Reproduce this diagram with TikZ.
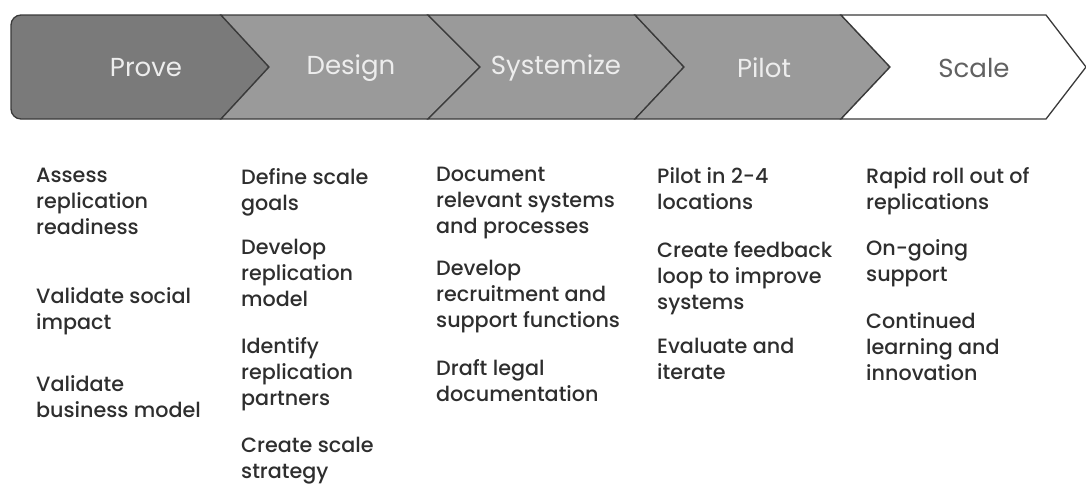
\documentclass[tikz,border=0pt]{standalone}
\usepackage{fontspec}
\setmainfont{Poppins}
\newfontfamily\itemfont{Poppins Medium}

\definecolor{provegray}{HTML}{7A7A7A}
\definecolor{stepgray}{HTML}{9A9A9A}
\definecolor{edgegray}{HTML}{3A3A3A}
\definecolor{inkgray}{HTML}{2E2E2E}

\tikzset{
  phase/.style={draw=edgegray, line width=1.3pt, line join=miter},
  phaselabel/.style={font=\fontsize{26}{30}\selectfont, text=white!93!black},
  item/.style={anchor=north west, inner sep=0pt, align=left, text=inkgray,
    font=\itemfont\fontsize{20.7}{26}\selectfont}
}

\begin{document}
\begin{tikzpicture}[x=1pt,y=-1pt]
  \useasboundingbox (0,0) rectangle (1086,488);

  % Draw the phase arrows
  \draw[phase, fill=provegray] (221,119) [rounded corners=10pt] -- (11,119) -- (11,15)
    [sharp corners] -- (221,15) -- (269,67) -- cycle;
  \draw[phase, fill=stepgray] (221,15) -- (428,15) -- (480,67) -- (428,119) -- (221,119) -- (269,67) -- cycle;
  \draw[phase, fill=stepgray] (428,15) -- (635,15) -- (684,67) -- (635,119) -- (428,119) -- (480,67) -- cycle;
  \draw[phase, fill=stepgray] (635,15) -- (841,15) -- (890,67) -- (841,119) -- (635,119) -- (684,67) -- cycle;
  \draw[phase, fill=white] (841,15) -- (1046,15) -- (1086,67) -- (1046,119) -- (841,119) -- (890,67) -- cycle;

  % Phase names
  \node[phaselabel] (prove) at (146,68) {Prove};
  \node[phaselabel] (design) at (351,68) {Design};
  \node[phaselabel] (systemize) at (556,68) {Systemize};
  \node[phaselabel] (pilot) at (764,68) {Pilot};
  \node[phaselabel, text=black!62] (scale) at (974,68) {Scale};

  % Prove
  \node[item] (prove-a) at (36,168) {Assess\\replication\\readiness};
  \node[item] (prove-b) at (36,287) {Validate social\\impact};
  \node[item] (prove-c) at (36,375) {Validate\\business model};

  % Design
  \node[item] (design-a) at (241,168) {Define scale\\goals};
  \node[item] (design-b) at (241,239) {Develop\\replication\\model};
  \node[item] (design-c) at (241,337) {Identify\\replication\\partners};
  \node[item] (design-d) at (241,437) {Create scale\\strategy};

  % Systemize
  \node[item] (systemize-a) at (436,167) {Document\\relevant systems\\and processes};
  \node[item] (systemize-b) at (436,260) {Develop\\recruitment and\\support functions};
  \node[item] (systemize-c) at (436,359) {Draft legal\\documentation};

  % Pilot
  \node[item] (pilot-a) at (657,167) {Pilot in 2-4\\locations};
  \node[item] (pilot-b) at (657,241) {Create feedback\\loop to improve\\systems};
  \node[item] (pilot-c) at (657,338) {Evaluate and\\iterate};

  % Scale
  \node[item] (scale-a) at (866,167) {Rapid roll out of\\replications};
  \node[item] (scale-b) at (866,239) {On-going\\support};
  \node[item] (scale-c) at (866,312) {Continued\\learning and\\innovation};
\end{tikzpicture}
\end{document}
